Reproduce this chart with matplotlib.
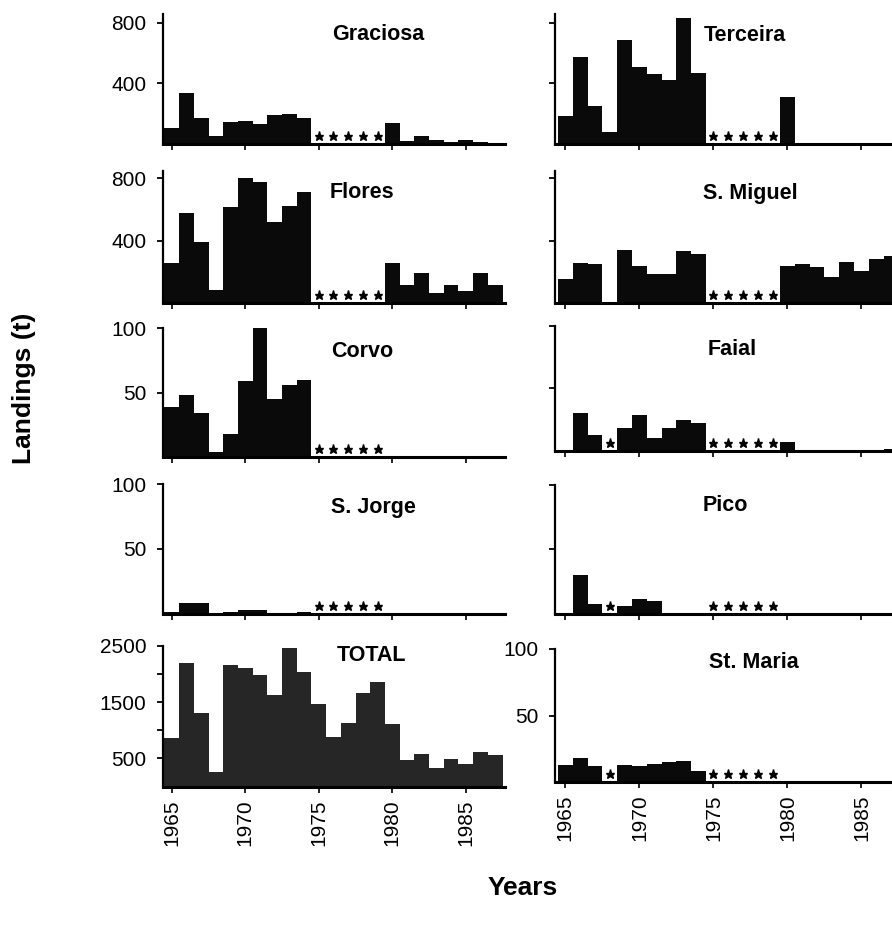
import numpy as np
import matplotlib
matplotlib.use("Agg")
import matplotlib.pyplot as plt
from matplotlib.transforms import ScaledTranslation

plt.rcParams['font.family'] = ['Liberation Sans', 'DejaVu Sans']

years = list(range(1965, 1988))
M = None  # missing year (marked with a star)

graciosa = [103, 334, 169, 52, 147, 150, 135, 192, 195, 169, M, M, M, M, M, 136, 22, 52, 24, 10, 26, 10, 8]
terceira = [182, 577, 249, 82, 684, 511, 462, 422, 833, 467, M, M, M, M, M, 311, 0, 0, 0, 0, 0, 0, 0]
flores = [257, 578, 390, 83, 614, 800, 775, 522, 625, 711, M, M, M, M, M, 257, 115, 195, 62, 115, 79, 195, 115]
s_miguel = [152, 255, 250, 0, 340, 238, 186, 186, 336, 315, M, M, M, M, M, 238, 250, 229, 169, 261, 207, 282, 302]
corvo = [39, 48, 34, 4, 18, 59, 100, 45, 56, 59.5, M, M, M, M, M, 0, 0, 0.5, 0, 0, 0, 0, 0]
faial = [0, 30, 13, M, 18, 29, 10, 18, 25, 22.5, M, M, M, M, M, 7.5, 0.5, 1, 0.5, 0.5, 1, 1, 1.5]
s_jorge = [1.3, 8.2, 8.2, 0.5, 1.3, 3, 3, 0.8, 0.8, 1.8, M, M, M, M, M, 0.3, 0.3, 0.3, 0.3, 0.3, 0.3, 0.3, 0.3]
pico = [0, 30, 7.5, M, 6.4, 12, 10.2, 0, 0, 0, M, M, M, M, M, 0, 0, 0, 0, 0, 0, 0, 0]
total = [856, 2188, 1300, 263, 2158, 2110, 1980, 1625, 2455, 2028, 1465, 874, 1122, 1655, 1851, 1110,
         470, 572, 330, 490, 400, 613, 560]
st_maria = [12.5, 18, 12.3, M, 13, 12.3, 13.8, 15, 15.6, 8, M, M, M, M, M, 0, 0, 0, 0, 0, 0, 0, 0]

xtick_years = [1965, 1970, 1975, 1980, 1985]

W, H = 892, 930
fig = plt.figure(figsize=(W / 100, H / 100), dpi=100)


def rect(x0, x1, ytop, ybot):
    return [x0 / W, 1 - ybot / H, (x1 - x0) / W, (ybot - ytop) / H]


LX = (163, 505, (1964.4, 1987.67))
RX = (555, 901, (1964.3, 1987.67))

# name, values, column, ytop, ybot, ylim, major ticks, labelled?, minor ticks, title pos (x, baseline), xlabels
panels = [
    ("Graciosa", graciosa, LX, 13.7, 144, 860, [400, 800], True, [], (332, 40), False),
    ("Terceira", terceira, RX, 13.7, 144, 860, [400, 800], False, [], (704, 40.7), False),
    ("Flores", flores, LX, 171.4, 303, 845, [400, 800], True, [], (330, 198), False),
    ("S. Miguel", s_miguel, RX, 171.4, 303, 845, [400, 800], False, [], (703, 199), False),
    ("Corvo", corvo, LX, 328.3, 457, 100, [50, 100], True, [], (331, 356.7), False),
    ("Faial", faial, RX, 326, 451, 100, [50, 100], False, [], (708, 355), False),
    ("S. Jorge", s_jorge, LX, 484, 614, 100, [50, 100], True, [], (331, 513), False),
    ("Pico", pico, RX, 485, 614, 100, [50, 100], False, [], (703, 510.7), False),
    ("TOTAL", total, LX, 645.7, 786.5, 2500, [500, 1500, 2500], True, [1000, 2000], (337, 661), True),
    ("St. Maria", st_maria, RX, 649, 782, 100, [50, 100], True, [], (709, 668), True),
]

for name, vals, col, ytop, ybot, ymax, yt, ylab, ymin_t, tpos, xlab in panels:
    x0, x1, xl = col
    ax = fig.add_axes(rect(x0, x1, ytop, ybot))
    v = np.array([np.nan if a is None else a for a in vals], dtype=float)
    yrs = np.array(years)
    ok = ~np.isnan(v)
    ax.bar(yrs[ok], v[ok], width=1.0, align='center',
           color='#262626' if name == 'TOTAL' else '#0a0a0a', edgecolor='none', linewidth=0)
    miss = yrs[~ok]
    if len(miss):
        off = ScaledTranslation(0, 6 / 72, fig.dpi_scale_trans)
        ax.plot(miss, np.zeros(len(miss)), linestyle='none', marker='*', markersize=6.5,
                color='black', transform=ax.transData + off, clip_on=False)
    ax.set_xlim(*xl)
    ax.set_ylim(0, ymax)
    for s in ('top', 'right'):
        ax.spines[s].set_visible(False)
    ax.spines['left'].set_linewidth(1.6)
    ax.spines['bottom'].set_linewidth(2.2)
    ax.set_yticks(yt)
    if ymin_t:
        ax.set_yticks(ymin_t, minor=True)
    ax.tick_params(axis='y', which='both', direction='out', length=4, width=1.3, pad=8,
                   labelsize=15, labelleft=ylab)
    ax.set_xticks(xtick_years)
    ax.tick_params(axis='x', direction='out', length=4, width=1.2, pad=5,
                   labelsize=15, labelbottom=xlab, labelrotation=90)
    fig.text(tpos[0] / W, 1 - tpos[1] / H, name, ha='left', va='baseline',
             fontsize=15.5, fontweight='bold')

fig.text(24 / W, 1 - 388 / H, "Landings (t)", rotation=90, ha='center', va='center',
         fontsize=19, fontweight='bold')
fig.text(523 / W, 1 - 888 / H, "Years", ha='center', va='center',
         fontsize=19, fontweight='bold')

fig.savefig("out.png", dpi=100)
